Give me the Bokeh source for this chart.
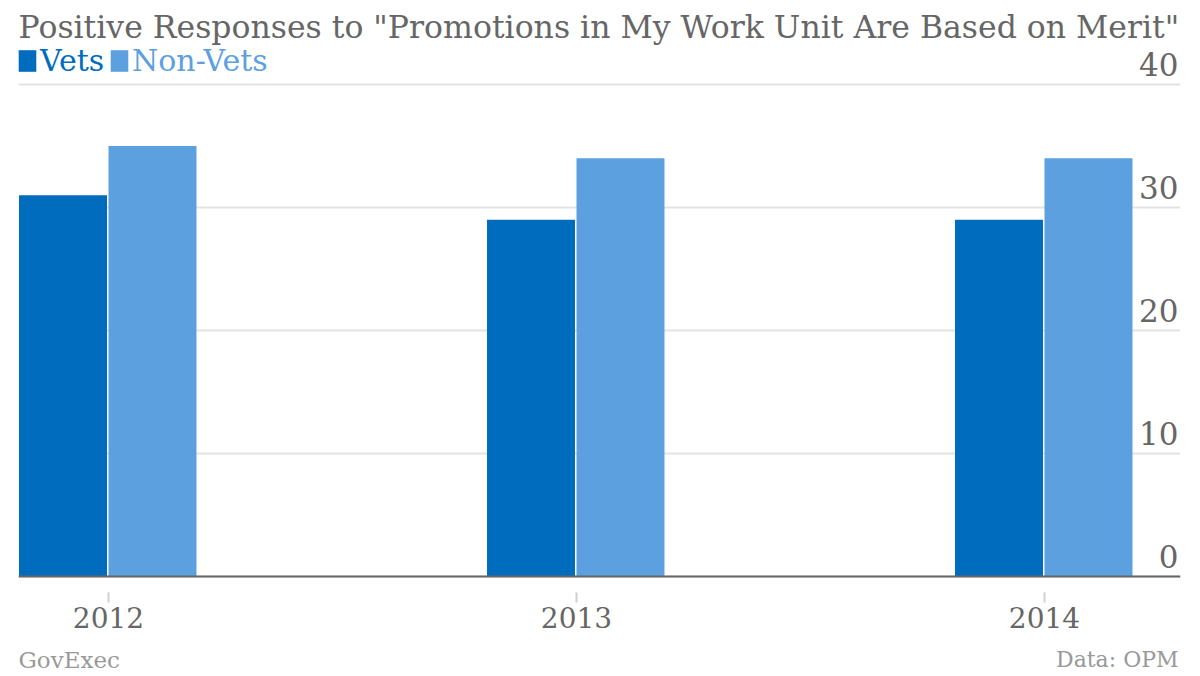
from bokeh.plotting import figure
from bokeh.models import (Range1d, FixedTicker, Legend, LegendItem, Label,
                          ColumnDataSource, Grid)
from bokeh.core.properties import value
from bokeh.embed import file_html
from bokeh.resources import INLINE
from bokeh.transform import dodge

# ---- data ----
years = ["2012", "2013", "2014"]
vets = [31, 29, 29]
non_vets = [35, 34, 34]
y_ticks = [0, 10, 20, 30, 40]
y_tick_labels = ["0", "10", "20", "30", "40"]

title_text = 'Positive Responses to "Promotions in My Work Unit Are Based on Merit"'
credit_left = "GovExec"
credit_right = "Data: OPM"

# ---- style ----
W, H = 1200, 676
FONT = "DejaVu Serif"
GRAY = "#666666"
C_VETS = "#006cbe"
C_NON = "#5ca0df"

xpos = list(range(len(years)))
src = ColumnDataSource(dict(x=xpos, vets=vets, non_vets=non_vets))

x_end = 2.2906
p = figure(width=W, height=H, output_backend="svg", toolbar_location=None,
           x_range=Range1d(-0.1923, x_end), y_range=Range1d(-8.13, 46.83),
           y_axis_location=None,
           min_border_left=18, min_border_right=20, min_border_top=0,
           min_border_bottom=0)
p.outline_line_color = None
p.xgrid.visible = False
p.ygrid.visible = False

grid = Grid(dimension=1, ticker=FixedTicker(ticks=y_ticks),
            grid_line_color="#e3e3e3", grid_line_width=2)
p.add_layout(grid)

r_vets = p.vbar(x=dodge("x", -0.0972, range=p.x_range), top="vets", width=0.188,
                source=src, fill_color=C_VETS, line_color=None)
r_non = p.vbar(x=dodge("x", 0.094, range=p.x_range), top="non_vets", width=0.188,
               source=src, fill_color=C_NON, line_color=None)

# right-side value labels, drawn above the grid lines
p.text(x=[x_end] * len(y_ticks), y=y_ticks, text=y_tick_labels,
       text_align="right", text_baseline="alphabetic", y_offset=-20, x_offset=-2,
       text_font=value(FONT), text_font_size="31px", text_color=GRAY)

# bottom axis, drawn at y = 0 inside the frame
ax = p.xaxis[0]
ax.fixed_location = 0
ax.ticker = FixedTicker(ticks=xpos)
ax.major_label_overrides = {i: y for i, y in zip(xpos, years)}
ax.axis_line_color = GRAY
ax.axis_line_width = 2
ax.major_tick_line_color = "#d0d0d0"
ax.major_tick_line_width = 2
ax.major_tick_in = -16
ax.major_tick_out = 26
ax.minor_tick_line_color = None
ax.major_label_standoff = 4
ax.major_label_text_font = FONT
ax.major_label_text_font_size = "28px"
ax.major_label_text_color = GRAY

# title
p.add_layout(Label(x=0, y=650, x_units="screen", y_units="screen", text=title_text,
                   text_font=FONT, text_font_size="31.5px", text_color=GRAY,
                   text_baseline="alphabetic"))

# legends
for r, name, col, lx in [(r_vets, "Vets", C_VETS, -2), (r_non, "Non-Vets", C_NON, 90)]:
    lg = Legend(items=[LegendItem(label=name, renderers=[r])], location=(lx, 598),
                orientation="horizontal", padding=0, margin=0, spacing=0,
                glyph_width=22, glyph_height=27, label_standoff=2,
                border_line_color=None, background_fill_alpha=0,
                label_text_font=FONT, label_text_font_size="30px",
                label_text_color=col)
    p.add_layout(lg)

# credits
p.add_layout(Label(x=0, y=17, x_units="screen", y_units="screen", text=credit_left,
                   text_font=FONT, text_font_size="23px", text_color="#999999",
                   text_baseline="alphabetic"))
p.add_layout(Label(x=1160, y=17, x_units="screen", y_units="screen", text=credit_right,
                   text_font=FONT, text_font_size="22px", text_color="#999999",
                   text_baseline="alphabetic", text_align="right"))

open("out.html", "w").write(file_html(p, INLINE))
